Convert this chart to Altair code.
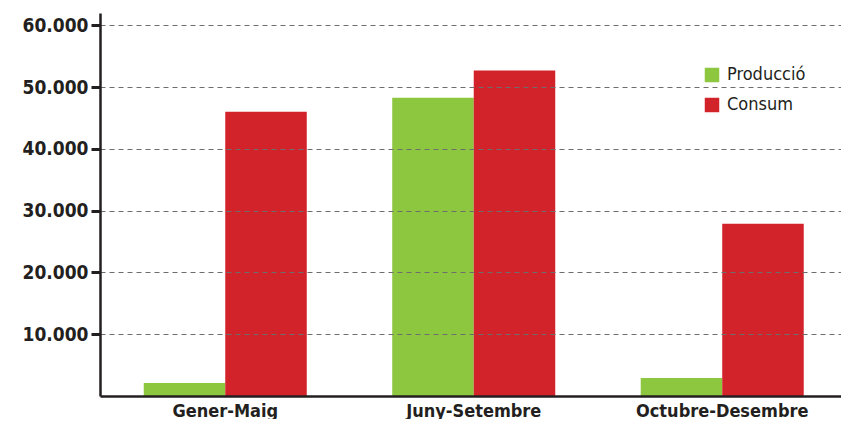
import altair as alt
import pandas as pd

periods = ["Gener-Maig", "Juny-Setembre", "Octubre-Desembre"]
series = ["Producció", "Consum"]
produccio = [2100, 48300, 2900]
consum = [46000, 52700, 27900]
y_ticks = [10000, 20000, 30000, 40000, 50000, 60000]
colors = ["#8DC63F", "#D2232A"]

rows = []
for p, a, b in zip(periods, produccio, consum):
    rows.append({"period": p, "serie": series[0], "value": a})
    rows.append({"period": p, "serie": series[1], "value": b})
df = pd.DataFrame(rows)

FONT = "Liberation Sans Narrow, DejaVu Sans Condensed, sans-serif"

chart = alt.Chart(df).mark_bar().encode(
    x=alt.X("period:N", sort=periods, title=None,
            scale=alt.Scale(paddingInner=0.344, paddingOuter=0.163, align=0.54),
            axis=alt.Axis(labelAngle=0, ticks=False, domainColor="#231F20", domainWidth=2.5,
                          labelFont=FONT, labelFontWeight="bold", labelFontSize=18,
                          labelColor="#231F20", labelPadding=6, grid=False, zindex=2)),
    xOffset=alt.XOffset("serie:N", sort=series, scale=alt.Scale(paddingInner=0, paddingOuter=0)),
    y=alt.Y("value:Q", title=None, scale=alt.Scale(domain=[0, 62000], nice=False),
            axis=alt.Axis(values=y_ticks,
                          labelExpr="replace(format(datum.value, ',.0f'), ',', '.')",
                          labelFont=FONT, labelFontWeight="bold", labelFontSize=19,
                          labelColor="#231F20", labelPadding=3,
                          tickSize=9, tickWidth=3, tickColor="#231F20",
                          domainColor="#231F20", domainWidth=2.5,
                          grid=True, gridDash=[5, 4], gridColor="#6d6d6d", gridWidth=1,
                          zindex=1)),
    color=alt.Color("serie:N", sort=series,
                    scale=alt.Scale(domain=series, range=colors),
                    legend=alt.Legend(title=None, orient="none", legendX=583, legendY=33,
                                      symbolType="square", symbolSize=210, symbolStrokeWidth=0,
                                      labelFont=FONT, labelFontSize=18, labelColor="#231F20",
                                      rowPadding=12, padding=20, fillColor="white",
                                      labelOffset=6)),
).properties(
    width=741, height=383,
    autosize=alt.AutoSizeParams(type="none"),
    padding={"left": 92, "top": 5, "right": 0, "bottom": 23},
).configure_view(stroke=None)

chart.save("out.html", embed_options={"renderer": "svg", "actions": False})
